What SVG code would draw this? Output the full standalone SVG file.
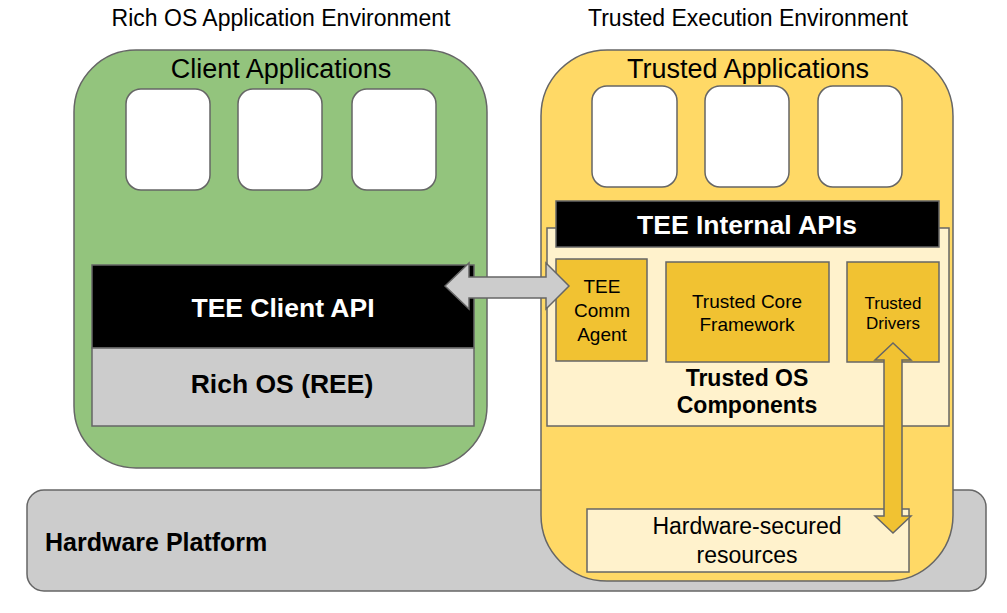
<svg xmlns="http://www.w3.org/2000/svg" width="1007" height="613" viewBox="0 0 1007 613">
<style>
text{font-family:"Liberation Sans",Arial,sans-serif;fill:#000;text-anchor:middle}
.b{font-weight:bold}
.w{fill:#fff}
.s{stroke:#666;stroke-width:1.5}
</style>
<rect width="1007" height="613" fill="#fff"/>
<text x="281" y="26" font-size="23">Rich OS Application Environment</text>
<text x="748" y="26" font-size="23">Trusted Execution Environment</text>
<g id="hardware-platform">
<rect class="s" x="27" y="490" width="959" height="101" rx="17" fill="#ccc"/>
<text class="b" x="45" y="551" font-size="25" style="text-anchor:start">Hardware Platform</text>
</g>
<g id="rich-os-env">
<rect class="s" x="74" y="50" width="413" height="418" rx="62" fill="#93c47d"/>
<text x="281" y="78" font-size="27">Client Applications</text>
<rect class="s" x="126" y="89" width="84" height="101" rx="15" fill="#fff"/>
<rect class="s" x="238" y="89" width="84" height="101" rx="15" fill="#fff"/>
<rect class="s" x="352" y="89" width="84" height="101" rx="15" fill="#fff"/>
</g>
<g id="tee-client-api">
<rect class="s" x="92" y="265" width="382" height="83" fill="#000"/>
<text class="b w" x="283" y="317" font-size="26.5">TEE Client API</text>
</g>
<g id="rich-os">
<rect class="s" x="92" y="348" width="382" height="78" fill="#ccc"/>
<text class="b" x="282" y="393" font-size="26.5">Rich OS (REE)</text>
</g>
<g id="tee-env">
<rect class="s" x="541" y="50" width="412" height="531" rx="66" fill="#ffd966"/>
<text x="748" y="78" font-size="27">Trusted Applications</text>
<rect class="s" x="592" y="86" width="85" height="101" rx="15" fill="#fff"/>
<rect class="s" x="705" y="86" width="84" height="101" rx="15" fill="#fff"/>
<rect class="s" x="818" y="86" width="84" height="101" rx="15" fill="#fff"/>
</g>
<g id="trusted-os-components">
<rect class="s" x="547" y="228" width="402" height="198" fill="#fff2cc"/>
<text class="b" x="747" y="386" font-size="23">Trusted OS</text>
<text class="b" x="747" y="413" font-size="23">Components</text>
</g>
<g id="tee-internal-apis">
<rect class="s" x="556" y="201" width="383" height="46" fill="#000"/>
<text class="b w" x="747" y="234" font-size="26.5">TEE Internal APIs</text>
</g>
<g id="tee-comm-agent">
<rect class="s" x="556" y="259" width="91" height="102" fill="#f1c232"/>
<text x="602" y="293" font-size="19">TEE</text>
<text x="602" y="317" font-size="19">Comm</text>
<text x="602" y="341" font-size="19">Agent</text>
</g>
<g id="trusted-core-framework">
<rect class="s" x="666" y="262" width="163" height="100" fill="#f1c232"/>
<text x="747" y="308" font-size="19">Trusted Core</text>
<text x="747" y="331" font-size="19">Framework</text>
</g>
<g id="trusted-drivers">
<rect class="s" x="847" y="262" width="92" height="100" fill="#f1c232"/>
<text x="893" y="309" font-size="17">Trusted</text>
<text x="893" y="329" font-size="17">Drivers</text>
</g>
<g id="hardware-secured-resources">
<rect class="s" x="587" y="509" width="322" height="63" fill="#fff2cc"/>
<text x="747" y="534" font-size="23">Hardware-secured</text>
<text x="747" y="563" font-size="23">resources</text>
</g>
<g id="connectors">
<polygon class="s" fill="#ccc" points="445,286 469,263 469,277 546,277 546,263 569,286 546,309 546,298 469,298 469,309"/>
<polygon class="s" fill="#f1c232" points="893,343 911,360 902,360 902,516 911,516 893,533 875,516 884,516 884,360 875,360"/>
</g>
</svg>
